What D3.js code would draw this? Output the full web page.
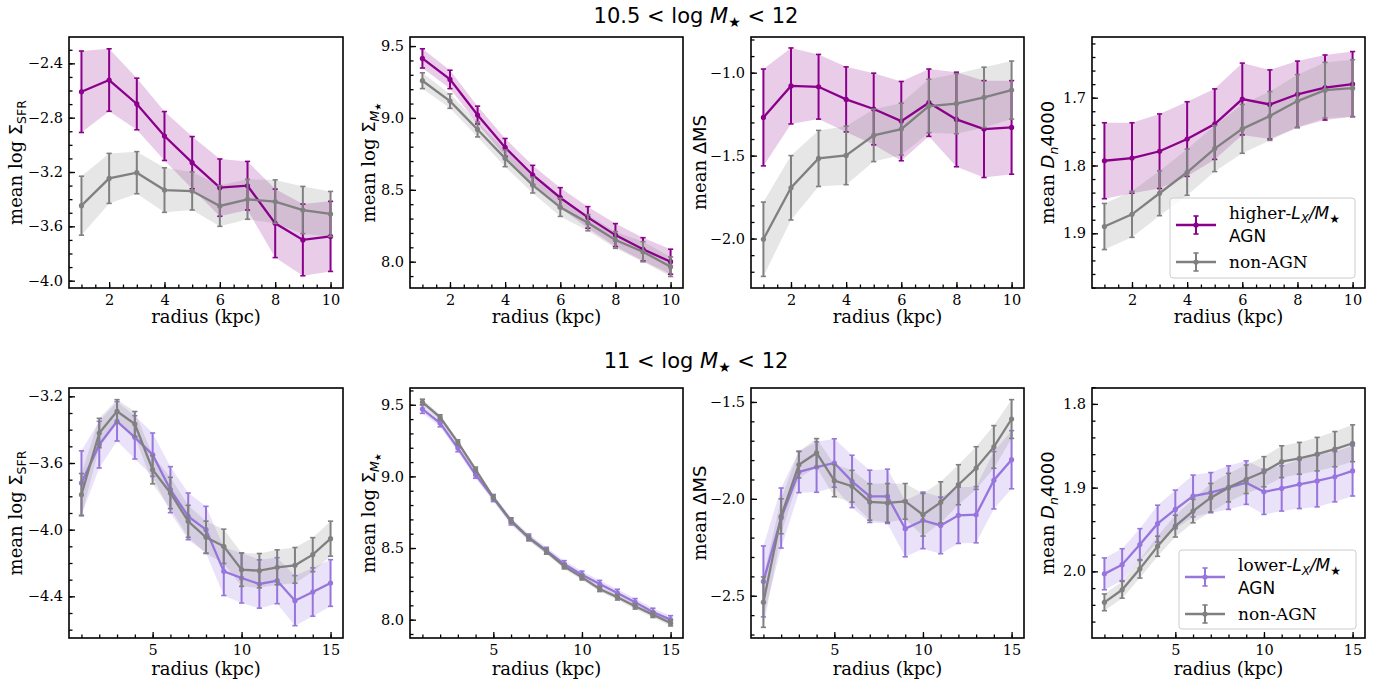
<!DOCTYPE html>
<html><head><meta charset="utf-8">
<script src="https://cdn.jsdelivr.net/npm/d3@7"></script>
<style>
body{margin:0;background:#fff;}
svg{display:block;}
</style></head>
<body>
<svg id="chart" width="1393" height="689"></svg>
<script>
// ---------------- DATA ----------------
const radiusTop = [1,2,3,4,5,6,7,8,9,10];
const radiusBot = [1,2,3,4,5,6,7,8,9,10,11,12,13,14,15];

// Top row: 10.5 < log M* < 12 (higher-Lx/M* AGN vs non-AGN)
const sfrHiAgn    = [-2.609,-2.523,-2.699,-2.935,-3.131,-3.315,-3.301,-3.578,-3.700,-3.674];
const sfrHiAgnErr = [0.300,0.230,0.190,0.180,0.192,0.211,0.179,0.252,0.264,0.258];
const sfrHiNon    = [-3.448,-3.247,-3.205,-3.333,-3.340,-3.450,-3.401,-3.418,-3.480,-3.509];
const sfrHiNonErr = [0.217,0.184,0.155,0.164,0.140,0.150,0.147,0.160,0.174,0.166];

const msHiAgn    = [9.414,9.268,9.020,8.795,8.603,8.445,8.308,8.185,8.086,8.000];
const msHiAgnErr = [0.067,0.064,0.062,0.062,0.067,0.070,0.075,0.080,0.081,0.087];
const msHiNon    = [9.259,9.117,8.920,8.719,8.533,8.378,8.271,8.151,8.069,7.965];
const msHiNonErr = [0.055,0.050,0.052,0.058,0.055,0.063,0.056,0.058,0.070,0.068];

const dmsHiAgn    = [-1.270,-1.080,-1.085,-1.161,-1.219,-1.292,-1.181,-1.282,-1.340,-1.330];
const dmsHiAgnErr = [0.292,0.229,0.195,0.196,0.216,0.239,0.203,0.285,0.292,0.282];
const dmsHiNon    = [-2.004,-1.694,-1.517,-1.499,-1.378,-1.340,-1.201,-1.187,-1.149,-1.105];
const dmsHiNonErr = [0.224,0.194,0.169,0.176,0.158,0.156,0.161,0.181,0.182,0.175];

const dnHiAgn    = [1.793,1.789,1.779,1.761,1.739,1.702,1.710,1.695,1.685,1.680];
const dnHiAgnErr = [0.056,0.052,0.055,0.055,0.052,0.053,0.051,0.049,0.048,0.048];
const dnHiNon    = [1.890,1.872,1.841,1.810,1.775,1.746,1.727,1.705,1.689,1.686];
const dnHiNonErr = [0.034,0.034,0.033,0.034,0.034,0.036,0.036,0.039,0.041,0.042];

// Bottom row: 11 < log M* < 12 (lower-Lx/M* AGN vs non-AGN)
const sfrLoAgn    = [-3.720,-3.490,-3.350,-3.446,-3.550,-3.760,-3.920,-4.000,-4.250,-4.290,-4.326,-4.306,-4.426,-4.374,-4.320];
const sfrLoAgnErr = [0.193,0.140,0.118,0.130,0.130,0.138,0.140,0.140,0.145,0.150,0.145,0.138,0.150,0.145,0.140];
const sfrLoNon    = [-3.790,-3.420,-3.290,-3.366,-3.640,-3.780,-3.950,-4.046,-4.100,-4.240,-4.246,-4.226,-4.214,-4.150,-4.054];
const sfrLoNonErr = [0.127,0.088,0.070,0.075,0.085,0.094,0.096,0.097,0.103,0.100,0.103,0.105,0.107,0.102,0.105];

const msLoAgn    = [9.470,9.372,9.198,9.012,8.849,8.686,8.574,8.481,8.388,8.314,8.249,8.186,8.121,8.053,8.000];
const msLoAgnErr = [0.030,0.026,0.026,0.025,0.025,0.025,0.024,0.024,0.024,0.025,0.025,0.026,0.026,0.027,0.028];
const msLoNon    = [9.519,9.412,9.237,9.047,8.853,8.691,8.570,8.477,8.372,8.295,8.214,8.156,8.093,8.035,7.977];
const msLoNonErr = [0.020,0.018,0.018,0.018,0.017,0.017,0.017,0.017,0.018,0.018,0.018,0.019,0.019,0.020,0.021];

const dmsLoAgn    = [-2.426,-2.099,-1.861,-1.836,-1.815,-1.910,-1.987,-1.987,-2.154,-2.111,-2.137,-2.085,-2.082,-1.904,-1.798];
const dmsLoAgnErr = [0.183,0.155,0.107,0.130,0.125,0.135,0.135,0.140,0.145,0.146,0.146,0.145,0.145,0.148,0.150];
const dmsLoNon    = [-2.533,-2.090,-1.824,-1.763,-1.906,-1.935,-2.016,-2.021,-2.013,-2.082,-2.018,-1.927,-1.841,-1.732,-1.588];
const dmsLoNonErr = [0.130,0.090,0.068,0.074,0.083,0.082,0.094,0.100,0.092,0.110,0.106,0.103,0.110,0.110,0.100];

const dnLoAgn    = [2.003,1.992,1.968,1.943,1.926,1.910,1.906,1.900,1.894,1.905,1.901,1.896,1.892,1.887,1.880];
const dnLoAgnErr = [0.019,0.019,0.019,0.022,0.023,0.025,0.024,0.026,0.026,0.027,0.027,0.029,0.031,0.030,0.030];
const dnLoNon    = [2.037,2.022,1.997,1.970,1.946,1.928,1.912,1.900,1.890,1.881,1.869,1.865,1.860,1.854,1.847];
const dnLoNonErr = [0.010,0.010,0.011,0.012,0.013,0.014,0.017,0.017,0.017,0.018,0.019,0.019,0.020,0.021,0.022];

const ticksTopX = [2,4,6,8,10];
const ticksBotX = [5,10,15];
const ticksSfrHi = [-2.4,-2.8,-3.2,-3.6,-4.0];
const ticksMsHi  = [8.0,8.5,9.0,9.5];
const ticksDmsHi = [-1.0,-1.5,-2.0];
const ticksDnHi  = [1.7,1.8,1.9];
const ticksSfrLo = [-3.2,-3.6,-4.0,-4.4];
const ticksMsLo  = [8.0,8.5,9.0,9.5];
const ticksDmsLo = [-1.5,-2.0,-2.5];
const ticksDnLo  = [1.8,1.9,2.0];

const titleTop = ["10.5 < log ", "M", "★", " < 12"];
const titleBot = ["11 < log ", "M", "★", " < 12"];

// ---------------- STYLE ----------------
const C_HI = "#8B008B", C_LO = "#9370DB", C_NON = "#808080";
const SERIF = "'DejaVu Serif', serif";
const SANS  = "'DejaVu Sans', sans-serif";
const svg = d3.select("#chart");

const cols = [[69,343],[410,683],[751,1024],[1092,1365]];
const rows = [[37,288],[388,638]];

function yLabel(g, cx, cy, kind) {
  const t = g.append("text").attr("transform", `translate(${cx},${cy}) rotate(-90)`)
    .attr("text-anchor","middle").attr("font-family", SERIF).attr("font-size", 18).attr("fill","#000");
  if (kind === "sfr") {
    t.append("tspan").text("mean log ");
    t.append("tspan").attr("font-family", SANS).text("Σ");
    t.append("tspan").attr("font-family", SANS).attr("font-size", 12.5).attr("dy", 4).text("SFR");
  } else if (kind === "ms") {
    t.append("tspan").text("mean log ");
    t.append("tspan").attr("font-family", SANS).text("Σ");
    t.append("tspan").attr("font-family", SANS).attr("font-style","italic").attr("font-size", 12.5).attr("dy", 4).text("M");
    t.append("tspan").attr("font-family", SANS).attr("font-size", 9).attr("dy", 2).text("★");
  } else if (kind === "dms") {
    t.append("tspan").text("mean ");
    t.append("tspan").attr("font-family", SANS).text("ΔMS");
  } else {
    t.append("tspan").text("mean ");
    t.append("tspan").attr("font-family", SANS).attr("font-style","italic").text("D");
    t.append("tspan").attr("font-family", SANS).attr("font-style","italic").attr("font-size", 12.5).attr("dy", 4).text("n");
    t.append("tspan").attr("font-family", SANS).attr("dy", -4).text("4000");
  }
}

function panel(o) {
  const [L, R] = cols[o.col], [T, B] = rows[o.row];
  const g = svg.append("g");
  const x = d3.scaleLinear().domain(o.xd).range([L, R]);
  const y = d3.scaleLinear().domain(o.yd).range([B, T]);

  // bands
  o.series.forEach(s => {
    const area = d3.area().x((d,i)=>x(o.r[i])).y0((d,i)=>y(d - s.err[i])).y1((d,i)=>y(d + s.err[i]));
    g.append("path").datum(s.mean).attr("d", area).attr("fill", s.color).attr("fill-opacity", s.fo).attr("stroke","none");
  });
  // lines, error bars, markers
  o.series.forEach(s => {
    const gs = g.append("g").attr("stroke", s.color).attr("opacity", s.op || 1);
    const line = d3.line().x((d,i)=>x(o.r[i])).y(d=>y(d));
    gs.append("path").datum(s.mean).attr("d", line).attr("fill","none").attr("stroke-width", 2.3);
    s.mean.forEach((m,i) => {
      const xx = x(o.r[i]), y1 = y(m - s.err[i]), y2 = y(m + s.err[i]);
      gs.append("line").attr("x1",xx).attr("x2",xx).attr("y1",y1).attr("y2",y2).attr("stroke-width",2);
      gs.append("line").attr("x1",xx-2.6).attr("x2",xx+2.6).attr("y1",y1).attr("y2",y1).attr("stroke-width",1.6);
      gs.append("line").attr("x1",xx-2.6).attr("x2",xx+2.6).attr("y1",y2).attr("y2",y2).attr("stroke-width",1.6);
      gs.append("circle").attr("cx",xx).attr("cy",y(m)).attr("r",2.6).attr("fill",s.color).attr("stroke","none");
    });
  });

  // axes
  const fmt = d3.format(o.fmt);
  const ax = d3.axisBottom(x).tickValues(o.xt).tickSize(-6).tickPadding(7).tickFormat(d3.format("d"));
  const axm = d3.axisBottom(x).tickValues(o.xm).tickSize(-3.5).tickFormat("");
  const ay = d3.axisLeft(y).tickValues(o.yt).tickSize(-6).tickPadding(6).tickFormat(fmt);
  const aym = d3.axisLeft(y).tickValues(o.ym).tickSize(-3.5).tickFormat("");
  [[ax,`translate(0,${B})`],[axm,`translate(0,${B})`],[ay,`translate(${L},0)`],[aym,`translate(${L},0)`]].forEach(([a,tr]) => {
    const ga = g.append("g").attr("transform", tr).call(a);
    ga.select(".domain").remove();
    ga.selectAll(".tick line").attr("stroke","#000").attr("stroke-width",1.3);
    ga.selectAll(".tick text").attr("font-family", SERIF).attr("font-size", 14.5).attr("fill","#000");
  });
  g.append("rect").attr("x",L).attr("y",T).attr("width",R-L).attr("height",B-T)
    .attr("fill","none").attr("stroke","#000").attr("stroke-width",1.6);

  // labels
  g.append("text").attr("x",(L+R)/2).attr("y", B + (o.row===0 ? 35 : 37)).attr("text-anchor","middle")
    .attr("font-family", SERIF).attr("font-size", 18).attr("fill","#000").text("radius (kpc)");
  yLabel(g, L - o.ylOff, (T+B)/2, o.kind);
  return {x, y};
}

function range(a, b, step) { const out = []; for (let v = a; v <= b + 1e-9; v += step) out.push(+v.toFixed(4)); return out; }

const minorTopX = range(1, 10, 0.5);
const minorBotX = range(1, 15, 1);

const hiAgn = (m,e) => ({mean:m, err:e, color:C_HI, fo:0.2});
const loAgn = (m,e) => ({mean:m, err:e, color:C_LO, fo:0.2, op:0.95});
const non   = (m,e) => ({mean:m, err:e, color:C_NON, fo:0.2});

// top row
panel({row:0,col:0,r:radiusTop,xd:[0.55,10.45],yd:[-4.054,-2.206],xt:ticksTopX,xm:minorTopX,yt:ticksSfrHi,ym:range(-4.0,-2.3,0.1),fmt:".1f",kind:"sfr",ylOff:47,
  series:[hiAgn(sfrHiAgn,sfrHiAgnErr), non(sfrHiNon,sfrHiNonErr)]});
panel({row:0,col:1,r:radiusTop,xd:[0.55,10.45],yd:[7.817,9.563],xt:ticksTopX,xm:minorTopX,yt:ticksMsHi,ym:range(7.9,9.5,0.1),fmt:".1f",kind:"ms",ylOff:35,
  series:[hiAgn(msHiAgn,msHiAgnErr), non(msHiNon,msHiNonErr)]});
panel({row:0,col:2,r:radiusTop,xd:[0.55,10.45],yd:[-2.298,-0.785],xt:ticksTopX,xm:minorTopX,yt:ticksDmsHi,ym:range(-2.2,-0.8,0.1),fmt:".1f",kind:"dms",ylOff:45,
  series:[hiAgn(dmsHiAgn,dmsHiAgnErr), non(dmsHiNon,dmsHiNonErr)]});
panel({row:0,col:3,r:radiusTop,xd:[0.55,10.45],yd:[1.9807,1.6105],xt:ticksTopX,xm:minorTopX,yt:ticksDnHi,ym:range(1.62,1.98,0.02),fmt:".1f",kind:"dn",ylOff:38,
  series:[hiAgn(dnHiAgn,dnHiAgnErr), non(dnHiNon,dnHiNonErr)]});

// bottom row
panel({row:1,col:0,r:radiusBot,xd:[0.3,15.7],yd:[-4.65,-3.15],xt:ticksBotX,xm:minorBotX,yt:ticksSfrLo,ym:range(-4.6,-3.2,0.1),fmt:".1f",kind:"sfr",ylOff:47,
  series:[loAgn(sfrLoAgn,sfrLoAgnErr), non(sfrLoNon,sfrLoNonErr)]});
panel({row:1,col:1,r:radiusBot,xd:[0.3,15.7],yd:[7.872,9.617],xt:ticksBotX,xm:minorBotX,yt:ticksMsLo,ym:range(7.9,9.6,0.1),fmt:".1f",kind:"ms",ylOff:35,
  series:[loAgn(msLoAgn,msLoAgnErr), non(msLoNon,msLoNonErr)]});
panel({row:1,col:2,r:radiusBot,xd:[0.3,15.7],yd:[-2.718,-1.428],xt:ticksBotX,xm:minorBotX,yt:ticksDmsLo,ym:range(-2.7,-1.5,0.1),fmt:".1f",kind:"dms",ylOff:45,
  series:[loAgn(dmsLoAgn,dmsLoAgnErr), non(dmsLoNon,dmsLoNonErr)]});
panel({row:1,col:3,r:radiusBot,xd:[0.3,15.7],yd:[2.0796,1.781],xt:ticksBotX,xm:minorBotX,yt:ticksDnLo,ym:range(1.78,2.06,0.02),fmt:".1f",kind:"dn",ylOff:38,
  series:[loAgn(dnLoAgn,dnLoAgnErr), non(dnLoNon,dnLoNonErr)]});

// titles
function title(parts, cy) {
  const t = svg.append("text").attr("x", 696).attr("y", cy).attr("text-anchor","middle")
    .attr("font-family", SANS).attr("font-size", 21).attr("fill","#000");
  t.append("tspan").text(parts[0]);
  t.append("tspan").attr("font-style","italic").text(parts[1]);
  t.append("tspan").attr("font-size", 14).attr("dy", 4).text(parts[2]);
  t.append("tspan").attr("dy", -4).text(parts[3]);
}
title(titleTop, 23);
title(titleBot, 368);

// legends
function legend(x0, y0, w, h, color, op, label1) {
  const g = svg.append("g");
  g.append("rect").attr("x",x0).attr("y",y0).attr("width",w).attr("height",h).attr("rx",3)
    .attr("fill","#fff").attr("fill-opacity",0.8).attr("stroke","#ccc").attr("stroke-width",1);
  const entries = [{c:color, op:op, cy:y0+27}, {c:C_NON, op:1, cy:y0+64}];
  entries.forEach(e => {
    const h = g.append("g").attr("stroke", e.c).attr("opacity", e.op);
    const hx = x0+26;
    h.append("line").attr("x1",x0+6).attr("x2",x0+46).attr("y1",e.cy).attr("y2",e.cy).attr("stroke-width",2.3);
    h.append("line").attr("x1",hx).attr("x2",hx).attr("y1",e.cy-9).attr("y2",e.cy+9).attr("stroke-width",2);
    h.append("line").attr("x1",hx-2.6).attr("x2",hx+2.6).attr("y1",e.cy-9).attr("y2",e.cy-9).attr("stroke-width",1.6);
    h.append("line").attr("x1",hx-2.6).attr("x2",hx+2.6).attr("y1",e.cy+9).attr("y2",e.cy+9).attr("stroke-width",1.6);
    h.append("circle").attr("cx",hx).attr("cy",e.cy).attr("r",2.6).attr("fill",e.c).attr("stroke","none");
  });
  const t1 = g.append("text").attr("x", x0+59).attr("y", y0+21).attr("font-family", SERIF).attr("font-size", 17).attr("fill","#000");
  t1.append("tspan").text(label1);
  t1.append("tspan").attr("font-family", SANS).attr("font-style","italic").text("L");
  t1.append("tspan").attr("font-family", SANS).attr("font-style","italic").attr("font-size", 12).attr("dy", 4).text("X");
  t1.append("tspan").attr("font-family", SANS).attr("font-style","italic").attr("dy", -4).text("/M");
  t1.append("tspan").attr("font-family", SANS).attr("font-size", 12).attr("dy", 4).text("★");
  g.append("text").attr("x", x0+59).attr("y", y0+44).attr("font-family", SANS).attr("font-size", 17).attr("fill","#000").text("AGN");
  g.append("text").attr("x", x0+59).attr("y", y0+70).attr("font-family", SERIF).attr("font-size", 17).attr("fill","#000").text("non-AGN");
}
legend(1170, 198, 185, 80, C_HI, 1, "higher-");
legend(1179, 550, 177, 79, C_LO, 0.95, "lower-");
</script>
</body></html>
